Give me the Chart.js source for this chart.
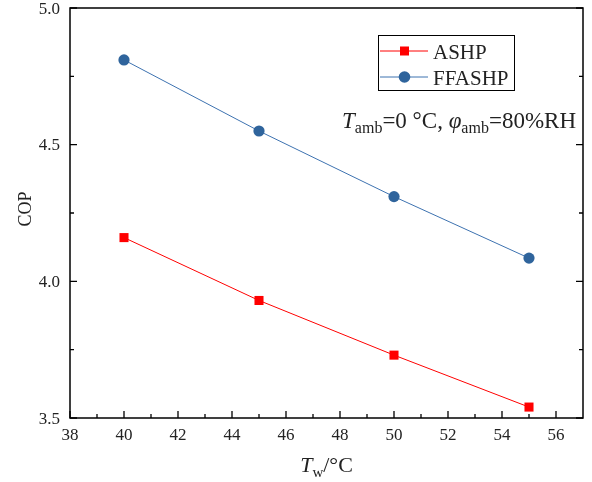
<!DOCTYPE html>
<html>
<head>
<meta charset="utf-8">
<script src="https://cdn.jsdelivr.net/npm/chart.js@4"></script>
<style>
  html, body { margin: 0; padding: 0; background: #fff; }
  #wrap { width: 592px; height: 482px; }
</style>
</head>
<body>
<div id="wrap"><canvas id="copChart" width="592" height="482"></canvas></div>
<script>
// data
const waterTemps = [40, 45, 50, 55];           // T_w in °C
const ashpCop = [4.16, 3.93, 3.73, 3.54];
const ffashpCop = [4.81, 4.55, 4.31, 4.085];
const xTicks = [38, 40, 42, 44, 46, 48, 50, 52, 54, 56];
const xMinorTicks = [39, 41, 43, 45, 47, 49, 51, 53, 55];
const yTicks = [3.5, 4.0, 4.5, 5.0];
const yMinorTicks = [3.75, 4.25, 4.75];
const seriesNames = ["ASHP", "FFASHP"];

const RED = "#ff0000";
const BLUE_PT = "#2f649c";
const BLUE_LN = "#3d72b0";
const SERIF = '"Liberation Serif", "Times New Roman", serif';

// frame, ticks, labels, legend, annotation
const framePlugin = {
  id: "frame",
  afterDraw(chart) {
    const { ctx, chartArea: a, scales: { x, y } } = chart;
    ctx.save();
    ctx.strokeStyle = "#000";
    ctx.lineWidth = 1.5;
    ctx.strokeRect(a.left, a.top, a.right - a.left, a.bottom - a.top);

    ctx.lineWidth = 1.3;
    ctx.beginPath();
    xTicks.forEach(v => { const px = x.getPixelForValue(v); ctx.moveTo(px, a.bottom); ctx.lineTo(px, a.bottom - 7); });
    xMinorTicks.forEach(v => { const px = x.getPixelForValue(v); ctx.moveTo(px, a.bottom); ctx.lineTo(px, a.bottom - 4); });
    yTicks.forEach(v => {
      const py = y.getPixelForValue(v);
      ctx.moveTo(a.left, py); ctx.lineTo(a.left + 7, py);
      ctx.moveTo(a.right, py); ctx.lineTo(a.right - 7, py);
    });
    yMinorTicks.forEach(v => {
      const py = y.getPixelForValue(v);
      ctx.moveTo(a.left, py); ctx.lineTo(a.left + 4, py);
      ctx.moveTo(a.right, py); ctx.lineTo(a.right - 4, py);
    });
    ctx.stroke();

    ctx.fillStyle = "#222";
    ctx.font = "17px " + SERIF;
    ctx.textAlign = "center";
    ctx.textBaseline = "alphabetic";
    xTicks.forEach(v => ctx.fillText(String(v), x.getPixelForValue(v), 440));
    ctx.textAlign = "right";
    yTicks.forEach(v => ctx.fillText(v.toFixed(1), a.left - 10, y.getPixelForValue(v) + 5.5));

    // axis titles
    ctx.save();
    ctx.translate(31, 209);
    ctx.rotate(-Math.PI / 2);
    ctx.textAlign = "center";
    ctx.textBaseline = "alphabetic";
    ctx.font = "18px " + SERIF;
    ctx.fillText("COP", 0, 0);
    ctx.restore();

    const drawRich = (parts, startX, baseY) => {
      let cx = startX;
      ctx.textAlign = "left";
      ctx.textBaseline = "alphabetic";
      parts.forEach(p => {
        ctx.font = p.font;
        ctx.fillText(p.t, cx, baseY + (p.dy || 0));
        cx += ctx.measureText(p.t).width;
      });
      return cx;
    };
    const measureRich = parts => parts.reduce((w, p) => { ctx.font = p.font; return w + ctx.measureText(p.t).width; }, 0);

    const xTitle = [
      { t: "T", font: "italic 22px " + SERIF },
      { t: "w", font: "15px " + SERIF, dy: 5 },
      { t: "/°C", font: "22px " + SERIF }
    ];
    const xMid = (a.left + a.right) / 2;
    drawRich(xTitle, xMid - measureRich(xTitle) / 2, 472);

    const note = [
      { t: "T", font: "italic 23px " + SERIF },
      { t: "amb", font: "16px " + SERIF, dy: 5 },
      { t: "=0 °C, ", font: "23px " + SERIF },
      { t: "φ", font: "italic 23px " + SERIF },
      { t: "amb", font: "16px " + SERIF, dy: 5 },
      { t: "=80%RH", font: "23px " + SERIF }
    ];
    drawRich(note, 576 - measureRich(note), 128);

    // legend
    ctx.lineWidth = 1;
    ctx.strokeStyle = "#000";
    ctx.strokeRect(378.5, 35.5, 136, 55);
    const items = [
      { name: seriesNames[0], color: RED, pt: RED, shape: "rect", yy: 51 },
      { name: seriesNames[1], color: BLUE_LN, pt: BLUE_PT, shape: "circle", yy: 77 }
    ];
    items.forEach(it => {
      ctx.strokeStyle = it.color;
      ctx.lineWidth = 1;
      ctx.beginPath();
      ctx.moveTo(380, it.yy); ctx.lineTo(428, it.yy);
      ctx.stroke();
      ctx.fillStyle = it.pt;
      if (it.shape === "rect") {
        ctx.fillRect(400, it.yy - 4.5, 9, 9);
      } else {
        ctx.beginPath(); ctx.arc(404.5, it.yy, 5.8, 0, Math.PI * 2); ctx.fill();
      }
      ctx.fillStyle = "#222";
      ctx.font = "21px " + SERIF;
      ctx.textAlign = "left";
      ctx.textBaseline = "alphabetic";
      ctx.fillText(it.name, 433, it.yy + 7.5);
    });
    ctx.restore();
  }
};

new Chart(document.getElementById("copChart").getContext("2d"), {
  type: "line",
  data: {
    datasets: [
      {
        label: seriesNames[0],
        data: waterTemps.map((t, i) => ({ x: t, y: ashpCop[i] })),
        borderColor: RED,
        backgroundColor: RED,
        borderWidth: 1,
        pointStyle: "rect",
        pointRadius: 6.4,
        pointBorderWidth: 0,
        tension: 0
      },
      {
        label: seriesNames[1],
        data: waterTemps.map((t, i) => ({ x: t, y: ffashpCop[i] })),
        borderColor: BLUE_LN,
        backgroundColor: BLUE_PT,
        borderWidth: 1,
        pointStyle: "circle",
        pointRadius: 5.6,
        pointBorderWidth: 0,
        tension: 0
      }
    ]
  },
  options: {
    responsive: false,
    animation: false,
    devicePixelRatio: 1,
    layout: { padding: { left: 70, top: 8, right: 9, bottom: 64 } },
    plugins: { legend: { display: false }, tooltip: { enabled: false } },
    scales: {
      x: { type: "linear", min: 38, max: 57, display: false },
      y: { type: "linear", min: 3.5, max: 5.0, display: false }
    }
  },
  plugins: [framePlugin]
});
</script>
</body>
</html>
